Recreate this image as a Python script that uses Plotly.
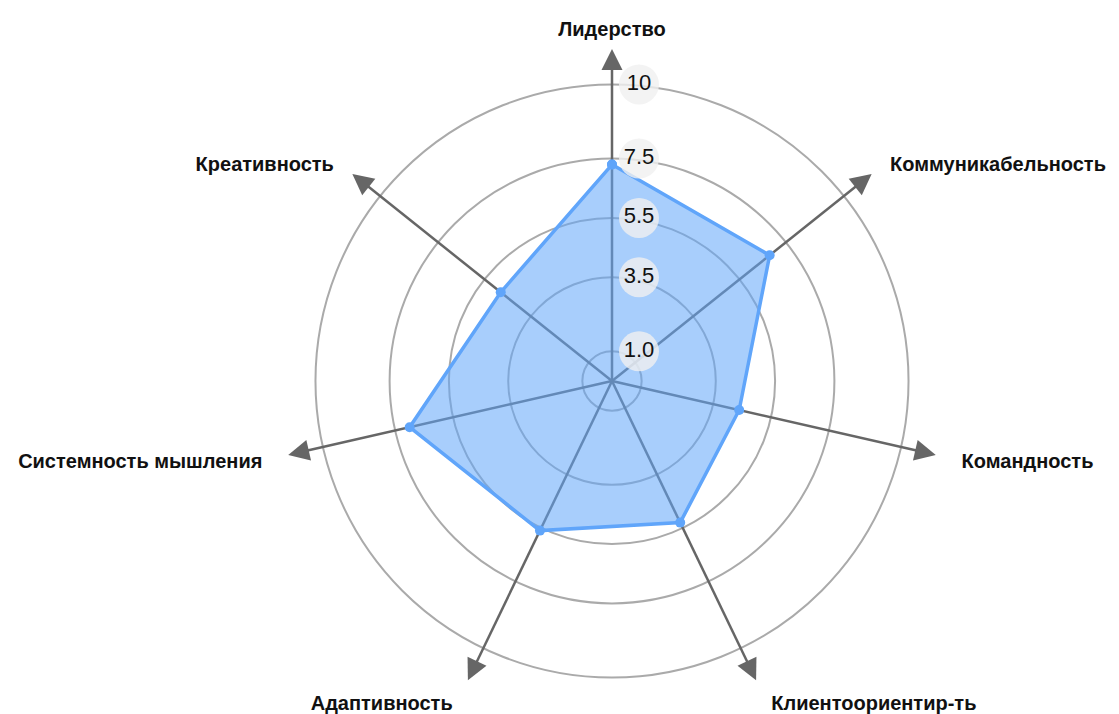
import math
import plotly.graph_objects as go

# ---- data ----
categories = ["Лидерство", "Коммуникабельность", "Командность", "Клиентоориентир-ть",
              "Адаптивность", "Системность мышления", "Креативность"]
values = [7.3, 6.8, 4.4, 5.3, 5.6, 7.0, 4.8]
tick_values = [10, 7.5, 5.5, 3.5, 1.0]
tick_labels = ["10", "7.5", "5.5", "3.5", "1.0"]

# ---- layout constants ----
# the page adds an 8px body margin, so the figure is drawn 8px smaller
W, H = 1111, 706
CX, CY = 604, 373          # centre in figure pixels (from top-left)
RADIUS_PX = 333
R_MAX = 11.23
UNIT_PX = RADIUS_PX / R_MAX
FONT = "Liberation Sans, Arial, sans-serif"
NB = "\u00a0"

n = len(categories)
angles = [i * 360.0 / n for i in range(n)]

# extra spacing of labels away from the circle (leading for right side, trailing for left)
label_pad = [0, 2, 3, 2, 2, 3, 2]
ticktext = []
for a, name, p in zip(angles, categories, label_pad):
    if 0 < a < 180:
        ticktext.append(NB * p + name)
    elif a > 180:
        ticktext.append(name + NB * p)
    else:
        ticktext.append(name)

fig = go.Figure()

# spokes (axis lines)
spoke_r, spoke_t = [], []
for a in angles:
    spoke_r += [0, 10.8, None]
    spoke_t += [a, a, None]
fig.add_trace(go.Scatterpolar(
    r=spoke_r, theta=spoke_t, mode="lines",
    line=dict(color="#666666", width=2.5),
    connectgaps=False, hoverinfo="skip", showlegend=False))

# arrow heads
fig.add_trace(go.Scatterpolar(
    r=[11.2] * n, theta=angles, mode="markers",
    marker=dict(symbol="arrow-up", size=21, color="#666666", angle=angles,
                line=dict(width=0)),
    cliponaxis=False, hoverinfo="skip", showlegend=False))

# data polygon
fig.add_trace(go.Scatterpolar(
    r=values + [values[0]], theta=angles + [angles[0]],
    mode="lines+markers", fill="toself",
    fillcolor="rgba(96,165,250,0.55)",
    line=dict(color="#60a5fa", width=3.5),
    marker=dict(size=10, color="#60a5fa"),
    cliponaxis=False, showlegend=False))

# radial tick label bubbles (offset to the right of the top axis)
off = 27 / UNIT_PX
b_r = [math.hypot(v, off) for v in tick_values]
b_t = [math.degrees(math.atan2(off, v)) for v in tick_values]
fig.add_trace(go.Scatterpolar(
    r=b_r, theta=b_t, mode="markers+text", text=tick_labels,
    textposition="middle center",
    textfont=dict(family=FONT, size=22, color="#111111"),
    marker=dict(size=40, color="rgba(240,240,240,0.8)", line=dict(width=0)),
    cliponaxis=False, hoverinfo="skip", showlegend=False))

fig.update_layout(
    width=W, height=H,
    margin=dict(l=0, r=0, t=0, b=0),
    paper_bgcolor="white",
    font=dict(family=FONT),
    showlegend=False,
    polar=dict(
        domain=dict(x=[(CX - RADIUS_PX) / W, (CX + RADIUS_PX) / W],
                    y=[(H - CY - RADIUS_PX) / H, (H - CY + RADIUS_PX) / H]),
        bgcolor="rgba(0,0,0,0)",
        radialaxis=dict(range=[0, R_MAX], tickvals=tick_values,
                        showticklabels=False, ticks="", showline=False,
                        gridcolor="#aaaaaa", gridwidth=1.5),
        angularaxis=dict(type="linear", thetaunit="degrees",
                         rotation=90, direction="clockwise",
                         tickvals=angles, ticktext=ticktext,
                         showgrid=False, showline=False,
                         ticks="outside", ticklen=4, tickcolor="rgba(0,0,0,0)",
                         tickfont=dict(family=FONT, size=20, color="#111111",
                                       weight="bold")),
    ),
)

fig.write_html("out.html")
